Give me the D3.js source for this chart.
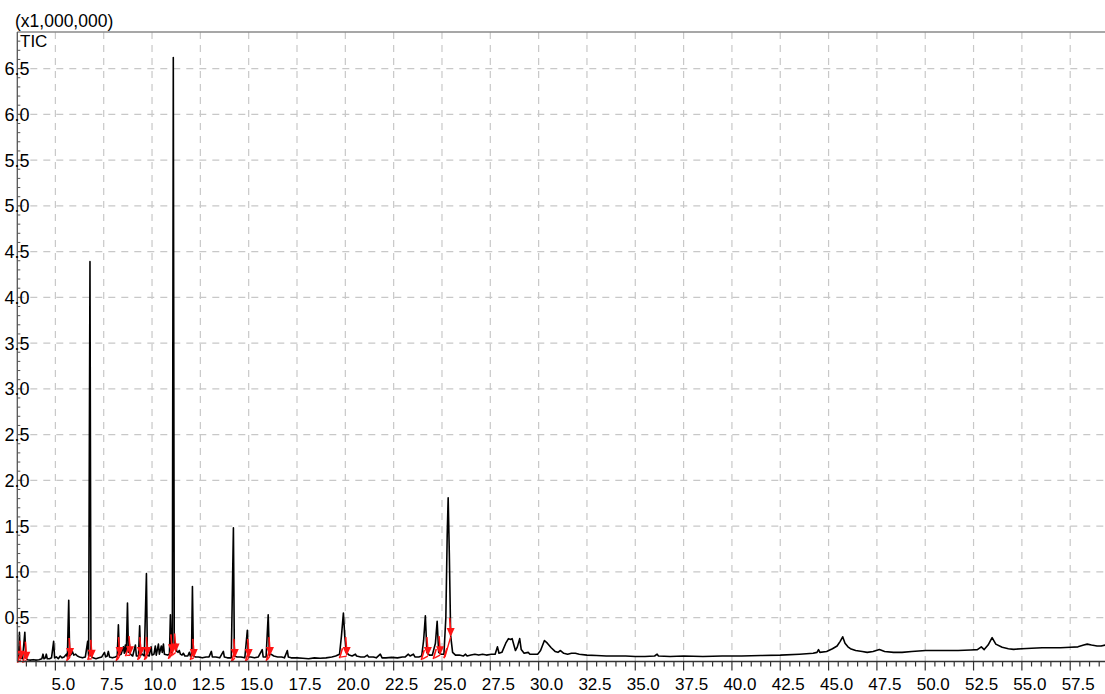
<!DOCTYPE html>
<html>
<head>
<meta charset="utf-8">
<script src="https://cdn.jsdelivr.net/npm/d3@7"></script>
<style>
  body { margin: 0; background: #fff; }
  text { font-family: "Liberation Sans", Arial, sans-serif; fill: #000; }
</style>
</head>
<body>
<div id="chart"></div>
<script>
// retention time (min) and TIC intensity (x1,000,000)
var retTime = [
  3.03, 3.10, 3.14, 3.19, 3.30, 3.42, 3.47, 3.55, 3.70, 3.85, 4.00, 4.15, 4.30, 4.36, 4.41, 4.48, 4.53, 4.58, 4.70, 4.80,
  4.91, 4.96, 5.05, 5.15, 5.25, 5.35, 5.45, 5.57, 5.62, 5.69, 5.74, 5.82, 5.88, 5.95, 6.05, 6.14, 6.25, 6.40, 6.55, 6.67,
  6.72, 6.79, 6.84, 6.95, 7.10, 7.25, 7.40, 7.54, 7.60, 7.68, 7.74, 7.80, 7.95, 8.10, 8.20, 8.26, 8.31, 8.40, 8.52, 8.57,
  8.62, 8.67, 8.73, 8.78, 8.83, 8.88, 9.00, 9.14, 9.19, 9.30, 9.36, 9.41, 9.50, 9.60, 9.71, 9.76, 9.85, 9.95, 10.00, 10.10,
  10.17, 10.22, 10.33, 10.38, 10.48, 10.53, 10.59, 10.64, 10.80, 10.90, 10.95, 11.00, 11.05, 11.10, 11.15, 11.21, 11.28, 11.35, 11.41, 11.47,
  11.55, 11.62, 11.70, 11.85, 11.93, 11.98, 12.04, 12.09, 12.14, 12.25, 12.40, 12.60, 12.80, 12.95, 13.07, 13.12, 13.30, 13.50, 13.69, 13.74,
  13.90, 14.10, 14.21, 14.26, 14.40, 14.60, 14.80, 14.93, 14.98, 15.10, 15.30, 15.50, 15.70, 15.75, 15.90, 16.01, 16.07, 16.15, 16.30, 16.50,
  16.70, 16.85, 17.00, 17.05, 17.20, 17.50, 17.80, 18.10, 18.40, 18.70, 19.00, 19.30, 19.50, 19.70, 19.80, 19.90, 19.97, 20.05, 20.20, 20.35,
  20.52, 20.58, 20.80, 21.00, 21.14, 21.20, 21.45, 21.60, 21.81, 21.90, 22.10, 22.40, 22.70, 22.95, 23.10, 23.26, 23.35, 23.52, 23.60, 23.80,
  23.95, 24.05, 24.14, 24.22, 24.35, 24.50, 24.66, 24.75, 24.83, 24.95, 25.10, 25.20, 25.27, 25.32, 25.38, 25.45, 25.55, 25.70, 25.90, 26.10,
  26.22, 26.30, 26.50, 26.70, 26.90, 27.10, 27.30, 27.55, 27.75, 27.87, 27.95, 28.10, 28.30, 28.44, 28.55, 28.63, 28.72, 28.80, 28.90, 29.02,
  29.10, 29.25, 29.46, 29.55, 29.75, 29.95, 30.10, 30.30, 30.45, 30.65, 30.85, 31.00, 31.13, 31.30, 31.50, 31.70, 31.90, 32.10, 32.50, 33.00,
  33.50, 34.00, 34.50, 35.00, 35.50, 36.00, 36.13, 36.20, 36.80, 37.50, 38.50, 39.50, 40.50, 41.50, 42.50, 43.50, 44.20, 44.40, 44.48, 44.55,
  44.90, 45.20, 45.44, 45.60, 45.73, 45.85, 46.00, 46.13, 46.40, 46.74, 47.00, 47.30, 47.63, 47.90, 48.36, 48.80, 49.30, 50.02, 50.50, 51.00,
  51.70, 52.35, 52.70, 52.90, 53.05, 53.25, 53.46, 53.65, 53.98, 54.30, 54.57, 55.00, 55.50, 56.05, 56.50, 57.00, 57.51, 57.90, 58.20, 58.38,
  58.60, 58.89, 59.10, 59.32
];
var ticValue = [
  0.05, 0.05, 0.34, 0.06, 0.05, 0.34, 0.06, 0.04, 0.035, 0.04, 0.035, 0.04, 0.05, 0.10, 0.05, 0.06, 0.10, 0.05, 0.05, 0.06,
  0.24, 0.06, 0.07, 0.05, 0.08, 0.06, 0.07, 0.10, 0.07, 0.69, 0.08, 0.10, 0.13, 0.09, 0.10, 0.08, 0.07, 0.06, 0.07, 0.24,
  0.08, 4.39, 0.08, 0.06, 0.05, 0.06, 0.07, 0.12, 0.07, 0.08, 0.13, 0.07, 0.06, 0.07, 0.08, 0.42, 0.09, 0.10, 0.18, 0.11,
  0.20, 0.12, 0.66, 0.12, 0.21, 0.10, 0.08, 0.20, 0.08, 0.08, 0.41, 0.09, 0.10, 0.08, 0.98, 0.09, 0.08, 0.18, 0.09, 0.10,
  0.19, 0.09, 0.21, 0.10, 0.19, 0.12, 0.21, 0.10, 0.09, 0.10, 0.53, 0.12, 0.14, 6.62, 0.20, 0.22, 0.13, 0.12, 0.14, 0.10,
  0.09, 0.11, 0.08, 0.08, 0.12, 0.08, 0.08, 0.84, 0.08, 0.07, 0.07, 0.06, 0.07, 0.07, 0.13, 0.07, 0.07, 0.06, 0.13, 0.07,
  0.06, 0.06, 1.48, 0.08, 0.07, 0.07, 0.06, 0.36, 0.07, 0.07, 0.06, 0.07, 0.15, 0.07, 0.07, 0.53, 0.09, 0.10, 0.08, 0.07,
  0.07, 0.06, 0.14, 0.07, 0.06, 0.06, 0.055, 0.05, 0.06, 0.055, 0.06, 0.07, 0.08, 0.10, 0.30, 0.55, 0.30, 0.12, 0.09, 0.08,
  0.10, 0.08, 0.07, 0.07, 0.09, 0.07, 0.07, 0.06, 0.10, 0.06, 0.06, 0.065, 0.06, 0.07, 0.07, 0.10, 0.08, 0.10, 0.07, 0.07,
  0.08, 0.25, 0.52, 0.12, 0.09, 0.09, 0.22, 0.46, 0.12, 0.10, 0.10, 0.50, 1.40, 1.81, 1.20, 0.30, 0.12, 0.09, 0.09, 0.08,
  0.10, 0.08, 0.09, 0.10, 0.09, 0.10, 0.09, 0.10, 0.10, 0.18, 0.11, 0.12, 0.22, 0.27, 0.26, 0.27, 0.20, 0.14, 0.18, 0.27,
  0.15, 0.11, 0.12, 0.10, 0.10, 0.10, 0.14, 0.25, 0.22, 0.17, 0.13, 0.12, 0.14, 0.11, 0.10, 0.11, 0.11, 0.10, 0.09, 0.085,
  0.08, 0.08, 0.08, 0.075, 0.075, 0.08, 0.10, 0.08, 0.075, 0.08, 0.075, 0.08, 0.08, 0.085, 0.09, 0.10, 0.11, 0.12, 0.15, 0.12,
  0.13, 0.16, 0.19, 0.24, 0.29, 0.22, 0.18, 0.16, 0.14, 0.13, 0.12, 0.13, 0.15, 0.13, 0.12, 0.12, 0.13, 0.14, 0.14, 0.14,
  0.14, 0.146, 0.15, 0.18, 0.15, 0.20, 0.28, 0.21, 0.175, 0.16, 0.153, 0.16, 0.165, 0.17, 0.17, 0.17, 0.175, 0.18, 0.20, 0.21,
  0.20, 0.19, 0.19, 0.20
];

// integrated peaks: start / end of each peak (min)
var peakStart = [3.09, 3.36, 5.64, 6.73, 8.20, 8.68, 9.31, 9.66, 10.90, 11.05, 12.03, 14.16, 14.88, 15.96, 19.75, 23.98, 24.60, 25.15];
var peakEnd   = [3.22, 3.50, 5.76, 6.88, 8.32, 8.86, 9.42, 9.76, 11.03, 11.22, 12.16, 14.28, 15.00, 16.10, 20.07, 24.27, 24.90, 25.45];

var xTicks = d3.range(5, 57.6, 2.5);
var yTicks = d3.range(0.5, 6.6, 0.5);

var width = 1105, height = 694;
var plotLeft = 17.3, plotTop = 32, plotBottom = 661.5;

var svg = d3.select("#chart")
  .append("svg")
  .attr("width", width)
  .attr("height", height);

var xScale = d3.scaleLinear().domain([3.03, 59.3]).range([plotLeft, width]);
var yScale = d3.scaleLinear().domain([0.02, 6.9]).range([plotBottom, plotTop]);

svg.append("clipPath").attr("id", "plot")
  .append("rect")
  .attr("x", plotLeft).attr("y", plotTop)
  .attr("width", width - plotLeft).attr("height", plotBottom - plotTop);

// dashed grid
svg.append("g")
  .selectAll("line")
  .data(xTicks)
  .enter().append("line")
  .attr("x1", function(d) { return xScale(d); })
  .attr("x2", function(d) { return xScale(d); })
  .attr("y1", plotTop).attr("y2", plotBottom)
  .attr("stroke", "#c8c8c8")
  .attr("stroke-width", 1.2)
  .attr("stroke-dasharray", "7,6");

svg.append("g")
  .selectAll("line")
  .data(yTicks)
  .enter().append("line")
  .attr("x1", plotLeft).attr("x2", width)
  .attr("y1", function(d) { return yScale(d); })
  .attr("y2", function(d) { return yScale(d); })
  .attr("stroke", "#c8c8c8")
  .attr("stroke-width", 1.2)
  .attr("stroke-dasharray", "7,6");

// chromatogram trace
var points = retTime.map(function(t, i) { return [t, ticValue[i]]; });
var line = d3.line()
  .x(function(d) { return xScale(d[0]); })
  .y(function(d) { return yScale(d[1]); });

svg.append("path")
  .datum(points)
  .attr("clip-path", "url(#plot)")
  .attr("fill", "none")
  .attr("stroke", "#000")
  .attr("stroke-width", 1.6)
  .attr("stroke-linejoin", "round")
  .attr("d", line);

// lower of the two trace points around a time (for placing the peak marks)
function traceAt(t) {
  var i = d3.bisectLeft(retTime, t);
  if (i <= 0) return ticValue[0];
  return Math.min(ticValue[i - 1], ticValue[i]);
}

var red = "#ff1414";
var marks = svg.append("g").attr("class", "marks");
peakStart.forEach(function(s, i) {
  var e = peakEnd[i];
  var xs = xScale(s), xe = xScale(e);
  var ys = yScale(traceAt(s)) + 3, ye = yScale(traceAt(e)) + 1;
  // integration baseline and start tick
  marks.append("line")
    .attr("x1", xs).attr("y1", ys)
    .attr("x2", xe).attr("y2", ye)
    .attr("stroke", red).attr("stroke-width", 1.4);
  marks.append("line")
    .attr("x1", xs - 1).attr("y1", ys + 1)
    .attr("x2", xs + 2).attr("y2", ys - 9)
    .attr("stroke", red).attr("stroke-width", 1.6);
  // end arrow
  marks.append("line")
    .attr("x1", xe - 1).attr("y1", ye - 19)
    .attr("x2", xe).attr("y2", ye - 5)
    .attr("stroke", red).attr("stroke-width", 1.6);
  marks.append("path")
    .attr("d", "M" + (xe - 4) + "," + (ye - 9) + "L" + (xe + 4) + "," + (ye - 9) + "L" + xe + "," + ye + "Z")
    .attr("fill", red);
});

// frame
svg.append("line")
  .attr("x1", plotLeft).attr("x2", width).attr("y1", plotTop).attr("y2", plotTop)
  .attr("stroke", "#8a8a8a").attr("stroke-width", 1.5);
svg.append("line")
  .attr("x1", plotLeft).attr("x2", plotLeft).attr("y1", plotTop).attr("y2", plotBottom)
  .attr("stroke", "#555").attr("stroke-width", 1.3);
svg.append("line")
  .attr("x1", plotLeft).attr("x2", width).attr("y1", plotBottom).attr("y2", plotBottom)
  .attr("stroke", "#333").attr("stroke-width", 1.5);

// x ticks: minor every 0.5 min, major every 2.5 min
var minor = d3.range(3.5, 59.3, 0.5);
svg.append("g")
  .selectAll("line")
  .data(minor)
  .enter().append("line")
  .attr("x1", function(d) { return xScale(d); })
  .attr("x2", function(d) { return xScale(d); })
  .attr("y1", plotBottom)
  .attr("y2", function(d) { return Math.abs(d / 2.5 - Math.round(d / 2.5)) < 1e-6 ? plotBottom + 9 : plotBottom + 5; })
  .attr("stroke", "#333").attr("stroke-width", 1.2);

svg.append("g")
  .selectAll("text")
  .data(xTicks)
  .enter().append("text")
  .attr("x", function(d) { return xScale(d) + 8; })
  .attr("y", 690)
  .attr("text-anchor", "middle")
  .attr("font-size", "17px")
  .text(function(d) { return d3.format(".1f")(d); });

// y ticks
var yMinor = d3.range(0.1, 6.85, 0.1);
svg.append("g")
  .selectAll("line")
  .data(yMinor)
  .enter().append("line")
  .attr("x1", plotLeft)
  .attr("x2", plotLeft + 3)
  .attr("y1", function(d) { return yScale(d); })
  .attr("y2", function(d) { return yScale(d); })
  .attr("stroke", "#555").attr("stroke-width", 1);

svg.append("g")
  .selectAll("text")
  .data(yTicks)
  .enter().append("text")
  .attr("x", 29.5)
  .attr("y", function(d) { return yScale(d) + 6.5; })
  .attr("text-anchor", "end")
  .attr("font-size", "18px")
  .text(function(d) { return d3.format(".1f")(d); });

svg.append("text")
  .attr("x", 15).attr("y", 27)
  .attr("font-size", "17.5px")
  .text("(x1,000,000)");

svg.append("text")
  .attr("x", 20).attr("y", 47)
  .attr("font-size", "17px")
  .text("TIC");
</script>
</body>
</html>
